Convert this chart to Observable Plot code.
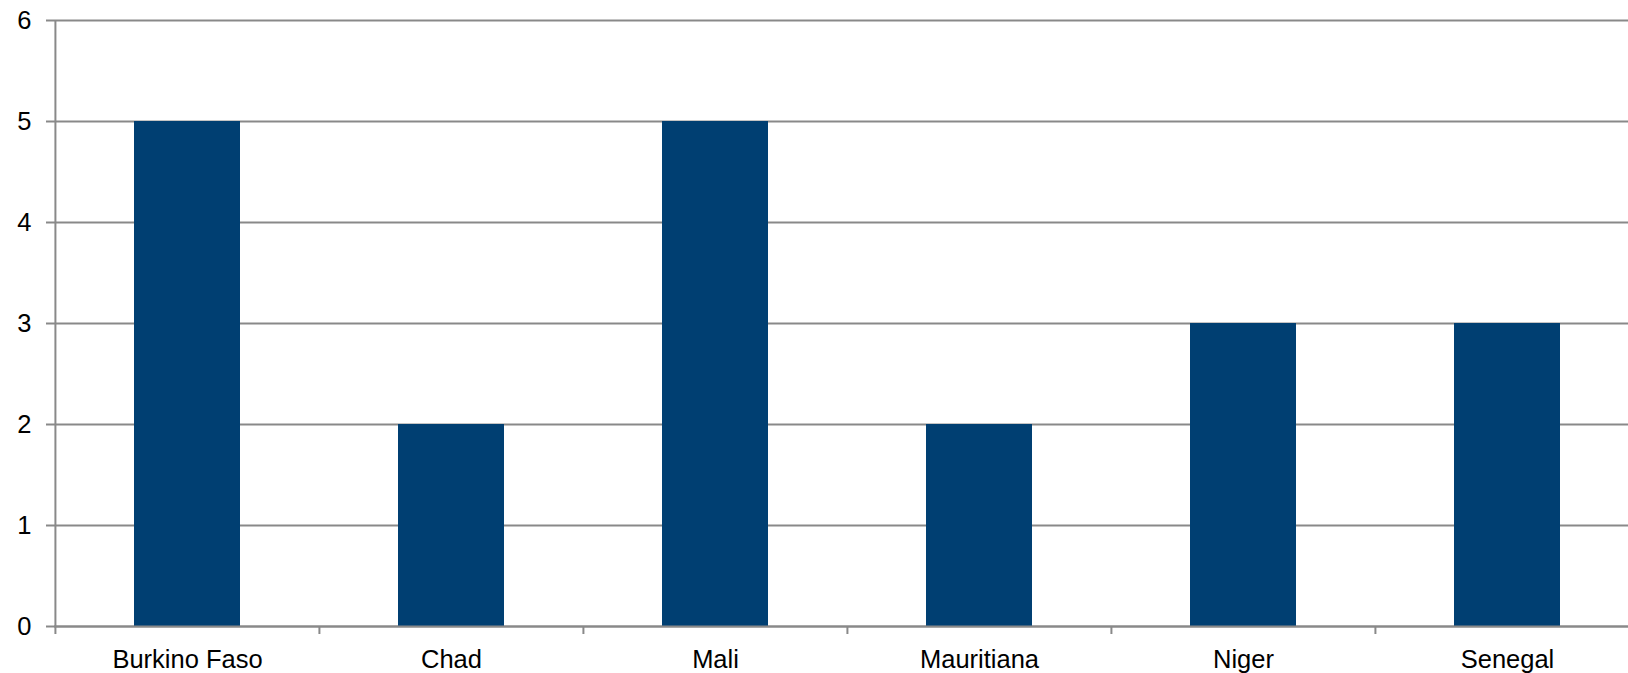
<!DOCTYPE html>
<html><head>
<meta charset="utf-8">
<script src="https://cdn.jsdelivr.net/npm/d3@7"></script>
<script src="https://cdn.jsdelivr.net/npm/@observablehq/plot@0.6"></script>
<style>
body{margin:0;background:#fff}
#chart svg text{font-family:"Liberation Sans",Arial,sans-serif;font-size:25.5px;}
</style>
</head><body><div id="chart"></div>
<script>
const categories = ["Burkino Faso", "Chad", "Mali", "Mauritiana", "Niger", "Senegal"];
const values = [5, 2, 5, 2, 3, 3];
const yTicks = [0, 1, 2, 3, 4, 5, 6];

const data = categories.map((c, i) => ({country: c, value: values[i]}));
const xRange = [54, 1639];
const step = (xRange[1] - xRange[0]) / categories.length;
const gray = "#898989";
const font = "'Liberation Sans', Arial, sans-serif";

const chart = Plot.plot({
  width: 1628, height: 673,
  marginLeft: 54, marginRight: 0, marginTop: 20, marginBottom: 47,
  style: {fontFamily: font, fontSize: "25.5px", color: "#000", background: "#fff"},
  x: {domain: categories, range: xRange, paddingInner: 0.6, paddingOuter: 0.3, label: null},
  y: {domain: [0, 6], label: null},
  marks: [
    Plot.gridY(yTicks, {stroke: gray, strokeOpacity: 1, strokeWidth: 2}),
    Plot.barY(data, {x: "country", y: "value", fill: "#003f72"}),
    Plot.axisY({ticks: yTicks, tickFormat: d => String(d), tickSize: 8, tickPadding: 15, stroke: gray, strokeWidth: 2, fill: "#000", fontSize: 25.5, fontFamily: font, label: null}),
    Plot.axisX({ticks: categories, tickSize: 8, text: null, dx: -step / 2, stroke: gray, strokeWidth: 2, label: null}),
    Plot.axisX({ticks: categories, tickSize: 0, tickPadding: 23, fill: "#000", fontSize: 25.5, fontFamily: font, label: null}),
    Plot.ruleX([categories[0]], {x: d => d, dx: -step / 2, stroke: gray, strokeWidth: 2}),
    Plot.ruleY([0], {stroke: gray, strokeWidth: 2})
  ]
});
document.getElementById("chart").append(chart);
</script>
</body></html>
